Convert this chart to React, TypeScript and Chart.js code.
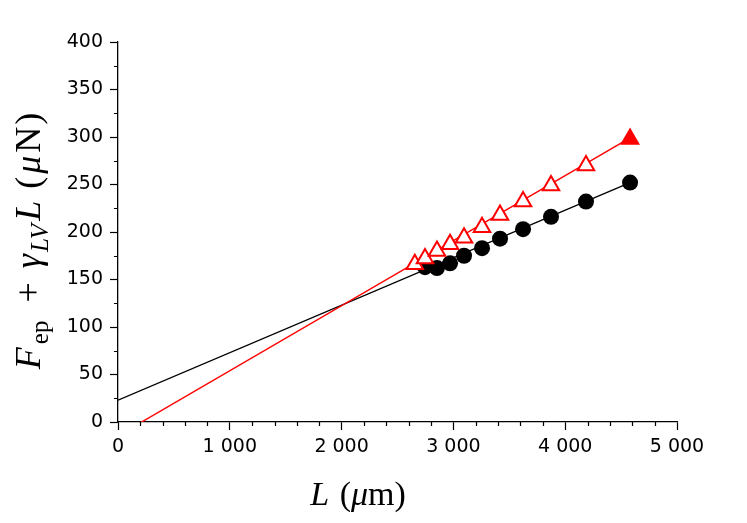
import React, { useEffect, useRef } from 'react';
import { Chart, registerables } from 'chart.js';

Chart.register(...registerables);

// measured points (L in µm, force in µN)
const lengthRed = [2655, 2746, 2853, 2970, 3095, 3256, 3417, 3623, 3873, 4186, 4580];
const forceRed = [166, 172, 180, 187, 194, 205, 218, 232, 249, 270, 298];
const lengthBlack = [2746, 2853, 2970, 3095, 3256, 3417, 3623, 3873, 4186, 4580];
const forceBlack = [163, 162, 167, 175, 183, 193, 203, 216, 232, 252];

// linear fits
const fitLength = [0, 4580];
const fitBlack = [23, 252];
const fitRed = [-14.5, 299];

// rich text pieces for the axis titles (gap = extra space before, px)
type Seg = { t: string; italic?: boolean; sub?: boolean; gap?: number };
const xTitle: Seg[] = [{ t: 'L', italic: true }, { t: ' (', gap: 2 }, { t: 'μ', italic: true }, { t: 'm)' }];
const yTitle: Seg[] = [
  { t: 'F', italic: true },
  { t: 'ep', sub: true, gap: 3 },
  { t: '+', gap: 18 },
  { t: 'γ', italic: true, gap: 14 },
  { t: 'LV', italic: true, sub: true, gap: 2 },
  { t: 'L', italic: true, gap: 3 },
  { t: '(', gap: 12 },
  { t: 'μ', italic: true, gap: 3 },
  { t: 'N', gap: 3 },
  { t: ')', gap: 2 },
];

const SERIF = '"Liberation Serif", "DejaVu Serif", serif';

function segFont(s: Seg, size: number) {
  const sz = s.sub ? Math.round(size * 0.7) : size;
  return `${s.italic ? 'italic ' : ''}${sz}px ${SERIF}`;
}

function drawRich(ctx: CanvasRenderingContext2D, segs: Seg[], cx: number, base: number, size: number) {
  let total = 0;
  const widths = segs.map((s) => {
    ctx.font = segFont(s, size);
    const w = ctx.measureText(s.t).width + (s.gap || 0);
    total += w;
    return w;
  });
  let x = cx - total / 2;
  ctx.textAlign = 'left';
  ctx.textBaseline = 'alphabetic';
  ctx.fillStyle = '#000';
  segs.forEach((s, i) => {
    ctx.font = segFont(s, size);
    ctx.fillText(s.t, x + (s.gap || 0), base + (s.sub ? size * 0.22 : 0));
    x += widths[i];
  });
}

const extrasPlugin = {
  id: 'extras',
  afterDraw(chart: any) {
    const ctx: CanvasRenderingContext2D = chart.ctx;
    const xs = chart.scales.x;
    const ys = chart.scales.y;
    const area = chart.chartArea;
    ctx.save();
    ctx.strokeStyle = '#000';
    ctx.lineWidth = 1.2;
    ctx.beginPath();
    for (let v = 200; v < 5000; v += 200) {
      if (v % 1000 === 0) continue;
      const px = Math.round(xs.getPixelForValue(v)) + 0.5;
      ctx.moveTo(px, area.bottom);
      ctx.lineTo(px, area.bottom + 4);
    }
    for (let v = 25; v < 400; v += 25) {
      if (v % 50 === 0) continue;
      const py = Math.round(ys.getPixelForValue(v)) + 0.5;
      ctx.moveTo(area.left, py);
      ctx.lineTo(area.left - 4, py);
    }
    ctx.stroke();

    drawRich(ctx, xTitle, 358, 505, 34);
    ctx.translate(40, 241);
    ctx.rotate(-Math.PI / 2);
    drawRich(ctx, yTitle, 0, 0, 36);
    ctx.restore();
  },
};

const tickFont = { family: '"DejaVu Sans", sans-serif', size: 19 };

const App: React.FC = () => {
  const canvasRef = useRef<HTMLCanvasElement>(null);

  useEffect(() => {
    if (!canvasRef.current) return;
    const chart = new Chart(canvasRef.current, {
      type: 'scatter',
      data: {
        datasets: [
          {
            label: 'red points',
            data: lengthRed.map((x, i) => ({ x, y: forceRed[i] })),
            pointStyle: 'triangle',
            pointRadius: 9.5,
            pointBorderWidth: 2,
            borderColor: '#ff0000',
            pointBackgroundColor: lengthRed.map((_, i) => (i === lengthRed.length - 1 ? '#ff0000' : '#ffffff')),
            showLine: false,
          },
          {
            label: 'black points',
            data: lengthBlack.map((x, i) => ({ x, y: forceBlack[i] })),
            pointStyle: 'circle',
            pointRadius: 8,
            pointBorderWidth: 0,
            borderColor: '#000',
            backgroundColor: '#000',
            showLine: false,
          },
          {
            label: 'red fit',
            data: fitLength.map((x, i) => ({ x, y: fitRed[i] })),
            borderColor: '#ff0000',
            borderWidth: 1.4,
            pointRadius: 0,
            showLine: true,
          },
          {
            label: 'black fit',
            data: fitLength.map((x, i) => ({ x, y: fitBlack[i] })),
            borderColor: '#000',
            borderWidth: 1.4,
            pointRadius: 0,
            showLine: true,
          },
        ],
      },
      options: {
        responsive: true,
        maintainAspectRatio: false,
        animation: false,
        layout: { padding: { top: 42, right: 70, left: 0, bottom: 0 } },
        plugins: { legend: { display: false }, tooltip: { enabled: false } },
        scales: {
          x: {
            type: 'linear',
            min: 0,
            max: 5000,
            afterFit: (s: any) => {
              s.height = 101;
            },
            border: { color: '#000', width: 1.3 },
            grid: { drawOnChartArea: false, drawTicks: true, tickLength: 8, color: '#000', tickWidth: 1.2 },
            ticks: {
              stepSize: 1000,
              color: '#000',
              font: tickFont,
              padding: 6,
              maxRotation: 0,
              callback: (v: any) => String(v).replace(/\B(?=(\d{3})+(?!\d))/g, ' '),
            },
          },
          y: {
            type: 'linear',
            min: 0,
            max: 400,
            afterFit: (s: any) => {
              s.width = 118;
            },
            border: { color: '#000', width: 1.3 },
            grid: { drawOnChartArea: false, drawTicks: true, tickLength: 8, color: '#000', tickWidth: 1.2 },
            ticks: { stepSize: 50, color: '#000', font: tickFont, padding: 7 },
          },
        },
      },
      plugins: [extrasPlugin],
    });
    return () => {
      chart.destroy();
    };
  }, []);

  return (
    <div style={{ position: 'absolute', left: 0, top: 0, width: '747px', height: '523px', background: '#fff' }}>
      <canvas ref={canvasRef} />
    </div>
  );
};

export default App;
